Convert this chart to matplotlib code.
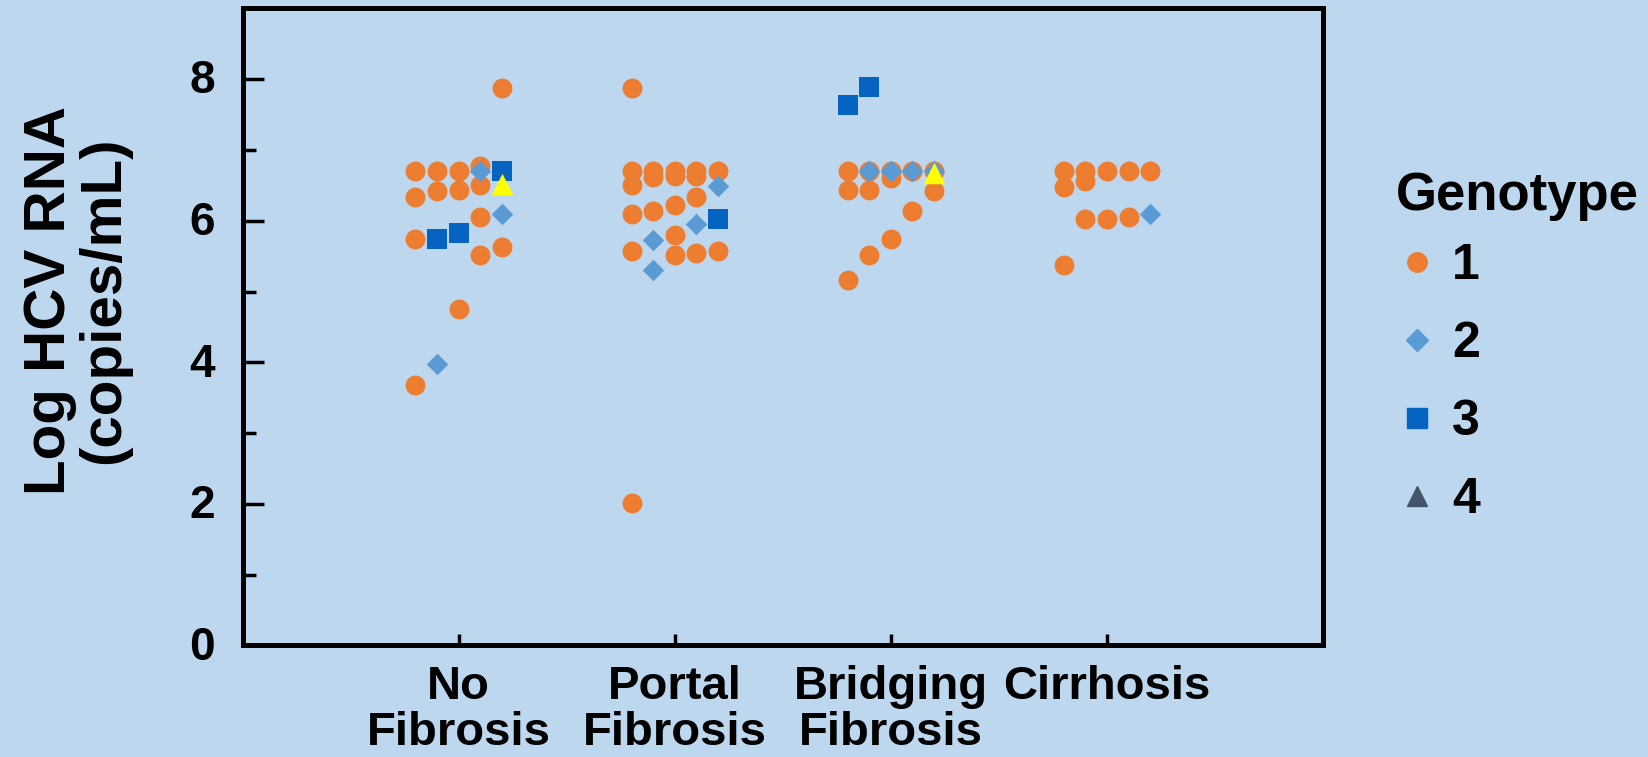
import numpy as np
import matplotlib
matplotlib.use('Agg')
import matplotlib.pyplot as plt
from matplotlib.lines import Line2D
from matplotlib.transforms import ScaledTranslation

plt.rcParams['font.family'] = ['Liberation Sans', 'DejaVu Sans']
plt.rcParams['font.weight'] = 'bold'

# 分组
stages = ['No\nFibrosis', 'Portal\nFibrosis', 'Bridging\nFibrosis', 'Cirrhosis']
genotypes = ['1', '2', '3', '4']

# 每组: 数值 / 基因型 / 所在小列(-2..2)
no_fib_val = [7.88, 6.70, 6.70, 6.70, 6.78, 6.34, 6.42, 6.44, 6.51, 6.05, 5.75, 5.52, 5.63, 4.75, 3.68,
              6.70, 6.09, 3.98,
              6.70, 5.75, 5.83,
              6.52]
no_fib_gt = [1] * 15 + [2] * 3 + [3] * 3 + [4]
no_fib_col = [2, -2, -1, 0, 1, -2, -1, 0, 1, 1, -2, 1, 2, 0, -2,
              1, 2, -1,
              2, -1, 0,
              2]

portal_val = [7.88, 6.70, 6.50, 6.70, 6.62, 6.70, 6.64, 6.70, 6.64, 6.70, 6.34, 6.22, 6.10, 6.14,
              5.80, 5.57, 5.51, 5.55, 5.57, 2.01,
              6.49, 5.96, 5.73, 5.30,
              6.03]
portal_gt = [1] * 20 + [2] * 4 + [3]
portal_col = [-2, -2, -2, -1, -1, 0, 0, 1, 1, 2, 1, 0, -2, -1,
              0, -2, 0, 1, 2, -2,
              2, 1, -1, -1,
              2]

bridging_val = [6.70, 6.44, 6.70, 6.44, 6.70, 6.61, 6.70, 6.70, 6.42, 6.14, 5.75, 5.51, 5.17,
                6.70, 6.70, 6.70, 6.70,
                7.64, 7.89,
                6.68]
bridging_gt = [1] * 13 + [2] * 4 + [3] * 2 + [4]
bridging_col = [-2, -2, -1, -1, 0, 0, 1, 2, 2, 1, 0, -1, -2,
                -1, 0, 1, 2,
                -2, -1,
                2]

cirrhosis_val = [6.70, 6.48, 6.70, 6.56, 6.70, 6.70, 6.70, 6.03, 6.03, 6.05, 5.37,
                 6.09]
cirrhosis_gt = [1] * 11 + [2]
cirrhosis_col = [-2, -2, -1, -1, 0, 1, 2, -1, 0, 1, -2,
                 2]

bg = '#BDD7EE'
styles = {
    1: dict(marker='o', color='#ED7D31', s=205),
    2: dict(marker='D', color='#5B9BD5', s=120),
    3: dict(marker='s', color='#0563C1', s=200),
    4: dict(marker='^', color='#FFFF00', s=240),
}

fig = plt.figure(figsize=(16.49, 7.57), dpi=100, facecolor=bg)
ax = fig.add_axes([0.1471, 0.1473, 0.6552, 0.8415], facecolor=bg)

groups = [(no_fib_val, no_fib_gt, no_fib_col),
          (portal_val, portal_gt, portal_col),
          (bridging_val, bridging_gt, bridging_col),
          (cirrhosis_val, cirrhosis_gt, cirrhosis_col)]

for g in [1, 2, 3, 4]:
    for i, (val, gt, col) in enumerate(groups):
        val = np.array(val)
        gt = np.array(gt)
        col = np.array(col)
        m = gt == g
        if m.sum() == 0:
            continue
        x = i + 1 + col[m] * 0.1
        ax.scatter(x, val[m], linewidths=0, zorder=2 + g, clip_on=False, **styles[g])

ax.set_xlim(0, 5)
ax.set_ylim(0, 9)
ax.set_xticks([1, 2, 3, 4])
ax.set_xticklabels(stages, fontsize=34, fontweight='bold', linespacing=1.05)
ax.set_yticks([0, 2, 4, 6, 8])
ax.set_yticks([1, 3, 5, 7], minor=True)
ax.tick_params(axis='y', which='major', direction='in', length=15, width=2.5, labelsize=33, pad=20)
ax.tick_params(axis='y', which='minor', direction='in', length=9, width=2.5)
ax.tick_params(axis='x', direction='in', length=8, width=2.5, pad=14)
for sp in ax.spines.values():
    sp.set_linewidth(3.6)
    sp.set_color('black')

# y轴数字略微上移
for lab in ax.get_yticklabels():
    lab.set_transform(lab.get_transform() + ScaledTranslation(0, 2 / 72, fig.dpi_scale_trans))

ax.set_ylabel('Log HCV RNA\n(copies/mL)', fontsize=42, fontweight='bold', linespacing=1.0, va='center')
ax.yaxis.set_label_coords(-0.153, 0.542)

# 图例
fig.text(1396 / 1649, 1 - 210 / 757, 'Genotype', fontsize=38, fontweight='bold',
         ha='left', va='baseline')
handles = [Line2D([], [], linestyle='none', marker='o', color='#ED7D31', markersize=14),
           Line2D([], [], linestyle='none', marker='D', color='#5B9BD5', markersize=11),
           Line2D([], [], linestyle='none', marker='s', color='#0563C1', markersize=14),
           Line2D([], [], linestyle='none', marker='^', color='#44546A', markersize=15)]
leg = ax.legend(handles, genotypes, loc='center left',
                bbox_to_anchor=(1372 / 1649, 1 - 383 / 757), bbox_transform=fig.transFigure,
                frameon=False, fontsize=36, borderpad=0, handlelength=0.8, handletextpad=0.3,
                labelspacing=0.64)

fig.savefig('out.png', dpi=100, facecolor=bg)
